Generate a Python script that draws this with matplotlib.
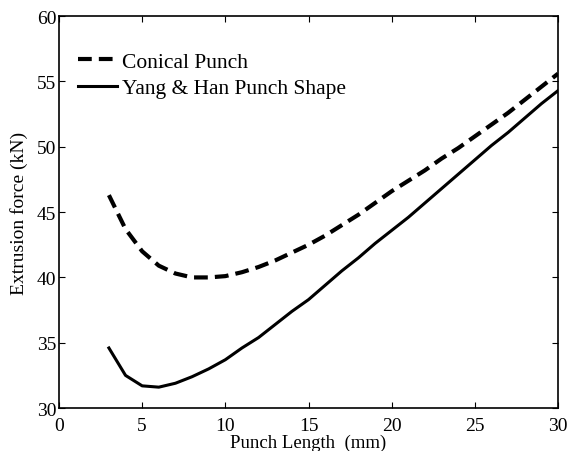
import matplotlib
matplotlib.use("Agg")
import matplotlib.pyplot as plt

punch_length = [3, 4, 5, 6, 7, 8, 9, 10, 11, 12, 13, 14, 15, 16, 17, 18, 19, 20,
                21, 22, 23, 24, 25, 26, 27, 28, 29, 30]
conical = [46.3, 43.7, 42.0, 40.9, 40.3, 40.0, 40.0, 40.1, 40.4, 40.8, 41.3, 41.9,
           42.5, 43.2, 44.0, 44.8, 45.7, 46.6, 47.4, 48.2, 49.1, 49.9, 50.8, 51.7,
           52.6, 53.6, 54.6, 55.6]
yang_han = [34.6, 32.5, 31.7, 31.6, 31.9, 32.4, 33.0, 33.7, 34.6, 35.4, 36.4, 37.4,
            38.3, 39.4, 40.5, 41.5, 42.6, 43.6, 44.6, 45.7, 46.8, 47.9, 49.0, 50.1,
            51.1, 52.2, 53.3, 54.3]
x_ticks = [0, 5, 10, 15, 20, 25, 30]
y_ticks = [30, 35, 40, 45, 50, 55, 60]

plt.rcParams['font.family'] = ['Liberation Serif', 'DejaVu Serif']

fig = plt.figure(figsize=(5.7, 4.52), dpi=100)
ax = fig.add_axes([0.1035, 0.095, 0.8755, 0.867])

ax.plot(punch_length, conical, color='black', lw=3.0, linestyle=(0, (3.3, 1.7)),
        label='Conical Punch')
ax.plot(punch_length, yang_han, color='black', lw=2.2, label='Yang & Han Punch Shape')

ax.set_xlim(0, 30)
ax.set_ylim(30, 60)
ax.set_xticks(x_ticks)
ax.set_yticks(y_ticks)
ax.tick_params(direction='in', top=True, right=True, labelsize=14, length=4,
               width=0.8)
ax.tick_params(axis='x', pad=6.5)
ax.tick_params(axis='y', pad=2)
for s in ax.spines.values():
    s.set_linewidth(1.2)

ax.set_xlabel('Punch Length  (mm)', fontsize=13.5, labelpad=-0.3)
ax.set_ylabel('Extrusion force (kN)', fontsize=14, labelpad=6)

leg = ax.legend(loc='upper left', frameon=False, fontsize=15.5, handlelength=1.8,
                handletextpad=0.25, labelspacing=0.3, borderaxespad=0.0,
                borderpad=0.0, bbox_to_anchor=(0.038, 0.91))

fig.savefig('out.png', dpi=100)
